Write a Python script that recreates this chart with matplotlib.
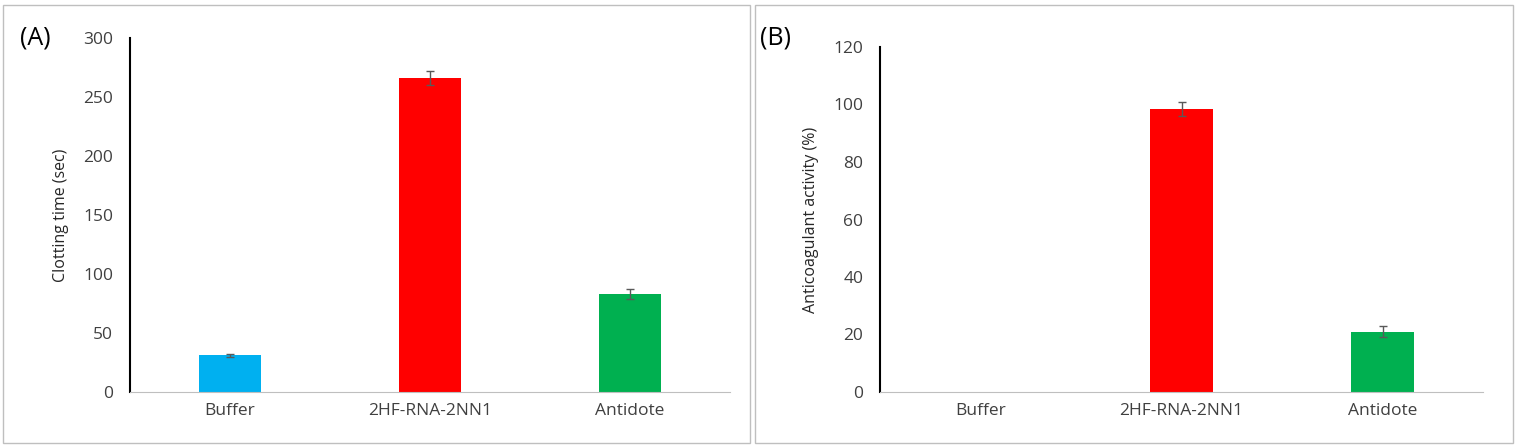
import matplotlib
matplotlib.use("Agg")
import matplotlib.pyplot as plt
from matplotlib.patches import Rectangle

categories = ["Buffer", "2HF-RNA-2NN1", "Antidote"]
clot_vals = [31, 266, 83]
clot_err = [1, 6, 4]
anti_vals = [0, 98.5, 21]
anti_err = [0, 2.5, 2]
colors = ["#00B0F0", "#FF0000", "#00B050"]

W, H = 1516, 446
fig = plt.figure(figsize=(W/100, H/100), dpi=100)
plt.rcParams["font.family"] = "Open Sans"

for x0, x1 in [(3, 750), (755, 1513)]:
    fig.add_artist(Rectangle((x0/W, 3/H), (x1-x0)/W, (H-8)/H, transform=fig.transFigure,
                             fill=False, ec="#bfbfbf", lw=1))

def panel(left, right, top, vals, errs, ymax, step, ylabel, letter, lx):
    ax = fig.add_axes([left/W, 1-392/H, (right-left)/W, (392-top)/H])
    errs = [e if e > 0 else float("nan") for e in errs]
    ax.bar(range(3), vals, width=0.31, color=colors, yerr=errs, capsize=3,
           error_kw=dict(ecolor="#595959", lw=1))
    ax.set_xlim(-0.5, 2.5)
    ax.set_ylim(0, ymax)
    ax.set_yticks(range(0, ymax+1, step))
    ax.set_xticks(range(3))
    ax.set_xticklabels(categories)
    ax.tick_params(length=0, labelsize=12.5, colors="#404040", pad=8)
    ax.tick_params(axis="y", pad=12)
    for s in ["top", "right"]:
        ax.spines[s].set_visible(False)
    ax.spines["left"].set_color("black")
    ax.spines["left"].set_linewidth(1.5)
    ax.spines["bottom"].set_color("#bfbfbf")
    ax.set_ylabel(ylabel, fontsize=11.5, color="#262626", labelpad=10)
    fig.text(lx/W, 1-38/H, letter, fontsize=18, va="center")
    return ax

panel(130, 730, 38, clot_vals, clot_err, 300, 50, "Clotting time (sec)", "(A)", 20)
panel(880, 1483, 47, anti_vals, anti_err, 120, 20, "Anticoagulant activity (%)", "(B)", 760)

fig.savefig("out.png", dpi=100)
